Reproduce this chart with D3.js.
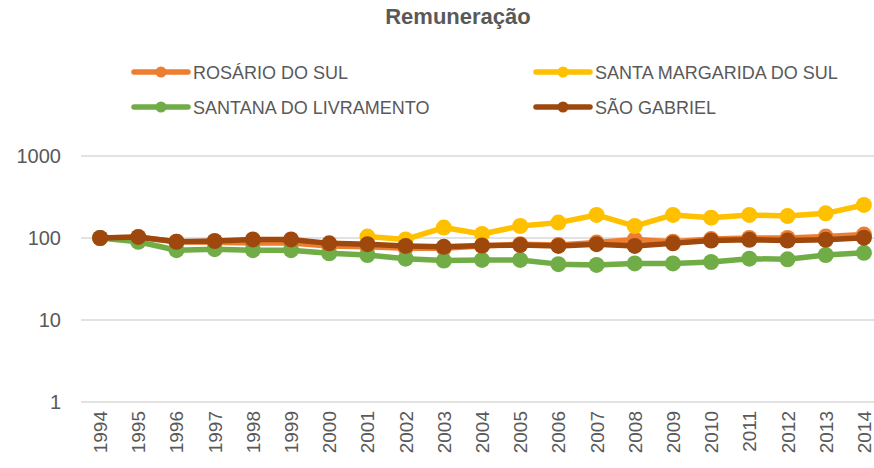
<!DOCTYPE html>
<html>
<head>
<meta charset="utf-8">
<script src="https://cdn.jsdelivr.net/npm/d3@7"></script>
<style>
  body { margin: 0; background: #fff; }
  text { font-family: "Liberation Sans", Arial, sans-serif; fill: #595959; }
</style>
</head>
<body>
<div id="chart"></div>
<script>
const years = ['1994','1995','1996','1997','1998','1999','2000','2001','2002','2003','2004',
  '2005','2006','2007','2008','2009','2010','2011','2012','2013','2014']
const seriesNames = ['ROSÁRIO DO SUL', 'SANTA MARGARIDA DO SUL', 'SANTANA DO LIVRAMENTO', 'SÃO GABRIEL']
const seriesColors = ['#ED7D31', '#FFC000', '#70AD47', '#9E480E']
const rosario = [100, 102, 90, 89, 87, 87, 80, 78, 75, 75, 80, 84, 82, 88, 96, 90, 97, 100, 100, 104, 110]
const santaMargarida = [null, null, null, null, null, null, null, 104, 96, 134, 112, 140, 154, 191, 140, 191, 177, 191, 185, 200, 253]
const santana = [100, 90, 71, 73, 71, 71, 65, 62, 56, 53, 54, 54, 48, 47, 49, 49, 51, 56, 55, 62, 66]
const saoGabriel = [100, 103, 90, 92, 96, 96, 86, 84, 80, 78, 81, 82, 80, 84, 80, 86, 93, 95, 93, 95, 101]
const yTicks = [1, 10, 100, 1000]

const allSeries = [rosario, santaMargarida, santana, saoGabriel]
const width = 874, height = 468

const svg = d3.select('#chart').append('svg').attr('width', width).attr('height', height)

svg.append('text')
  .attr('x', 458).attr('y', 24)
  .attr('text-anchor', 'middle')
  .style('font-size', '22px').style('font-weight', 'bold')
  .text('Remuneração')

const xScale = d3.scaleBand().domain(years).range([81, 883]).padding(0)
const yScale = d3.scaleLog().domain([1, 1000]).range([402, 156])

// grid lines
svg.append('g')
  .selectAll('line')
  .data(yTicks)
  .enter()
  .append('line')
  .attr('x1', 81).attr('x2', width)
  .attr('y1', d => yScale(d)).attr('y2', d => yScale(d))
  .attr('stroke', '#d9d9d9').attr('stroke-width', 1.3)

// y labels
svg.append('g')
  .selectAll('text')
  .data(yTicks)
  .enter()
  .append('text')
  .attr('x', 61)
  .attr('y', d => yScale(d) + 7)
  .attr('text-anchor', 'end')
  .style('font-size', '20px')
  .text(d => d)

// x labels
svg.append('g')
  .selectAll('text')
  .data(years)
  .enter()
  .append('text')
  .attr('transform', d => 'translate(' + (xScale(d) + xScale.bandwidth() / 2 + 7) + ',411) rotate(-90)')
  .attr('text-anchor', 'end')
  .style('font-size', '19px')
  .text(d => d)

const line = d3.line()
  .defined(d => d[1] != null)
  .x(d => xScale(d[0]) + xScale.bandwidth() / 2)
  .y(d => yScale(d[1]))

allSeries.forEach(function(vals, i) {
  const data = years.map((y, j) => [y, vals[j]])
  const g = svg.append('g')
  g.append('path')
    .attr('d', line(data))
    .attr('fill', 'none')
    .attr('stroke', seriesColors[i])
    .attr('stroke-width', 5.5)
    .attr('stroke-linejoin', 'round')
  g.selectAll('circle')
    .data(data.filter(d => d[1] != null))
    .enter()
    .append('circle')
    .attr('cx', d => xScale(d[0]) + xScale.bandwidth() / 2)
    .attr('cy', d => yScale(d[1]))
    .attr('r', 8)
    .attr('fill', seriesColors[i])
})

// legend
const legendPos = [[134, 72], [536, 72], [134, 107], [536, 107]]
seriesNames.forEach(function(name, i) {
  const p = legendPos[i]
  const g = svg.append('g').attr('transform', 'translate(' + p[0] + ',' + p[1] + ')')
  g.append('line')
    .attr('x1', 0).attr('x2', 54).attr('y1', 0).attr('y2', 0)
    .attr('stroke', seriesColors[i]).attr('stroke-width', 5.5)
    .attr('stroke-linecap', 'round')
  g.append('circle').attr('cx', 27).attr('cy', 0).attr('r', 5.5).attr('fill', seriesColors[i])
  g.append('text')
    .attr('x', 59).attr('y', 6.5)
    .style('font-size', '18px')
    .text(name)
})
</script>
</body>
</html>
